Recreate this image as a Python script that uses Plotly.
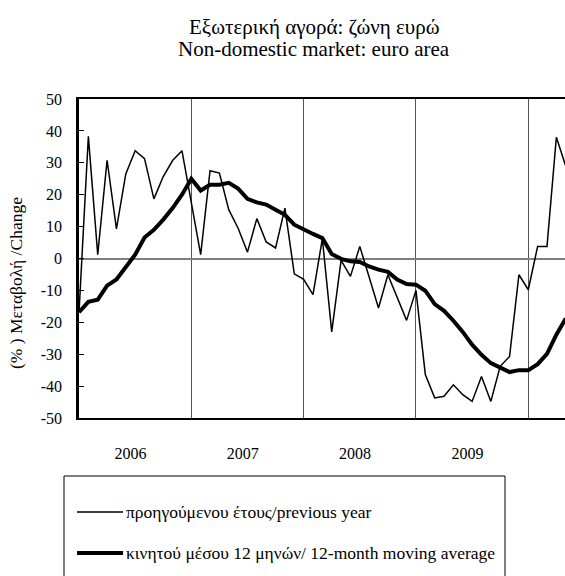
import plotly.graph_objects as go

# ---- data ----
months = [f"{y}-{m:02d}" for y in range(2006, 2011) for m in range(1, 13)][:53]

yoy_change = [-17, 38.3, 1.2, 30.8, 9.3, 26.5, 33.8, 31.3, 18.7, 25.7, 30.7, 33.8,
              17.5, 1.2, 27.5, 26.8, 15.3, 9.5, 2.0, 12.5, 5.2, 3.3, 15.8, -4.8,
              -6.5, -11.3, 6.2, -23.0, -0.6, -5.6, 3.8, -5.7, -15.5, -5.1, -12.2, -19.4,
              -10.0, -36.4, -43.7, -43.2, -39.6, -42.7, -44.8, -37.0, -44.8, -33.8, -30.7, -5.1,
              -9.8, 3.8, 3.8, 38.0, 29.0]

moving_avg = [-16.8, -13.6, -12.9, -8.5, -6.6, -2.5, 1.2, 6.6, 9.0, 12.2, 15.8, 20.0,
              25.0, 21.3, 23.1, 23.1, 23.7, 21.9, 18.7, 17.6, 16.9, 15.3, 13.7, 10.6,
              9.0, 7.7, 6.4, 1.4, -0.1, -0.9, -1.1, -2.5, -3.5, -4.2, -6.6, -8.0,
              -8.2, -10.1, -14.3, -16.4, -19.5, -23.0, -27.0, -30.2, -32.8, -34.3, -35.6, -35.0,
              -35.0, -33.1, -29.9, -23.9, -18.8]

year_labels = ["2006", "2007", "2008", "2009"]
y_ticks = list(range(-50, 51, 10))

title_gr = "Εξωτερική αγορά: ζώνη ευρώ"
title_en = "Non-domestic market: euro area"
y_title = "(% ) Μεταβολή /Change"
legend_names = ["προηγούμενου έτους/previous year",
                "κινητού μέσου 12 μηνών/ 12-month moving average"]

# ---- layout constants (pixels) ----
W, H = 565, 576
L, R, T, B = 79, 0, 99, 158
PW, PH = W - L - R, H - T - B
MONTH_PX = 9.36
FONT = "Liberation Serif"

def px_x(px):
    return (px - L) / PW

def px_y(py):
    return (H - B - py) / PH

x_idx = list(range(len(months)))

fig = go.Figure()
fig.add_trace(go.Scatter(x=x_idx, y=yoy_change, mode="lines", name=legend_names[0],
                         line=dict(color="black", width=1.5), showlegend=False))
fig.add_trace(go.Scatter(x=x_idx, y=moving_avg, mode="lines", name=legend_names[1],
                         line=dict(color="black", width=4), showlegend=False))

fig.update_layout(
    width=W, height=H,
    margin=dict(l=L, r=R, t=T, b=B, autoexpand=False),
    paper_bgcolor="white", plot_bgcolor="white",
    font=dict(family=FONT, color="black", size=16),
    xaxis=dict(
        range=[0, PW / MONTH_PX],
        tickvals=[12 * i + 5.5 for i in range(len(year_labels))],
        ticktext=year_labels,
        ticks="", showgrid=False, zeroline=False,
        showline=True, linecolor="black", linewidth=2, mirror=True,
        ticklabelstandoff=20,
        tickfont=dict(size=16),
        minor=dict(tickmode="array", tickvals=[12, 24, 36, 48], showgrid=True,
                   gridcolor="#555555", gridwidth=1, ticks=""),
    ),
    yaxis=dict(
        range=[-50, 50],
        tickvals=y_ticks,
        ticktext=[str(v) for v in y_ticks],
        ticks="inside", ticklen=5, tickcolor="black", tickwidth=1,
        showgrid=False, zeroline=True, zerolinecolor="#808080", zerolinewidth=1.5,
        showline=True, linecolor="black", linewidth=2.5, mirror=False,
        ticklabelstandoff=11,
        tickfont=dict(size=16),
    ),
)

annotations = [
    dict(x=px_x(314), y=px_y(27), xref="paper", yref="paper", text=title_gr,
         showarrow=False, font=dict(size=21), xanchor="center", yanchor="middle"),
    dict(x=px_x(314), y=px_y(49), xref="paper", yref="paper", text=title_en,
         showarrow=False, font=dict(size=21), xanchor="center", yanchor="middle"),
    dict(x=px_x(16), y=px_y(283), xref="paper", yref="paper", text=y_title,
         showarrow=False, textangle=-90, font=dict(size=17.5),
         xanchor="center", yanchor="middle"),
    dict(x=px_x(124), y=px_y(512), xref="paper", yref="paper", text=legend_names[0],
         showarrow=False, font=dict(size=17.5), xanchor="left", yanchor="middle"),
    dict(x=px_x(124), y=px_y(553), xref="paper", yref="paper", text=legend_names[1],
         showarrow=False, font=dict(size=17.5), xanchor="left", yanchor="middle"),
]
fig.update_layout(annotations=annotations)

shapes = [
    dict(type="rect", xref="paper", yref="paper", x0=px_x(64), x1=px_x(505),
         y0=px_y(600), y1=px_y(476), line=dict(color="black", width=1)),
    dict(type="line", xref="paper", yref="paper", x0=px_x(77), x1=px_x(123),
         y0=px_y(512), y1=px_y(512), line=dict(color="black", width=1.5)),
    dict(type="line", xref="paper", yref="paper", x0=px_x(77), x1=px_x(123),
         y0=px_y(553), y1=px_y(553), line=dict(color="black", width=4)),
]
fig.update_layout(shapes=shapes)

fig.write_html(
    "out.html",
    config={"displayModeBar": False},
    post_script="document.body.style.margin='0';document.body.style.overflow='hidden';",
)
